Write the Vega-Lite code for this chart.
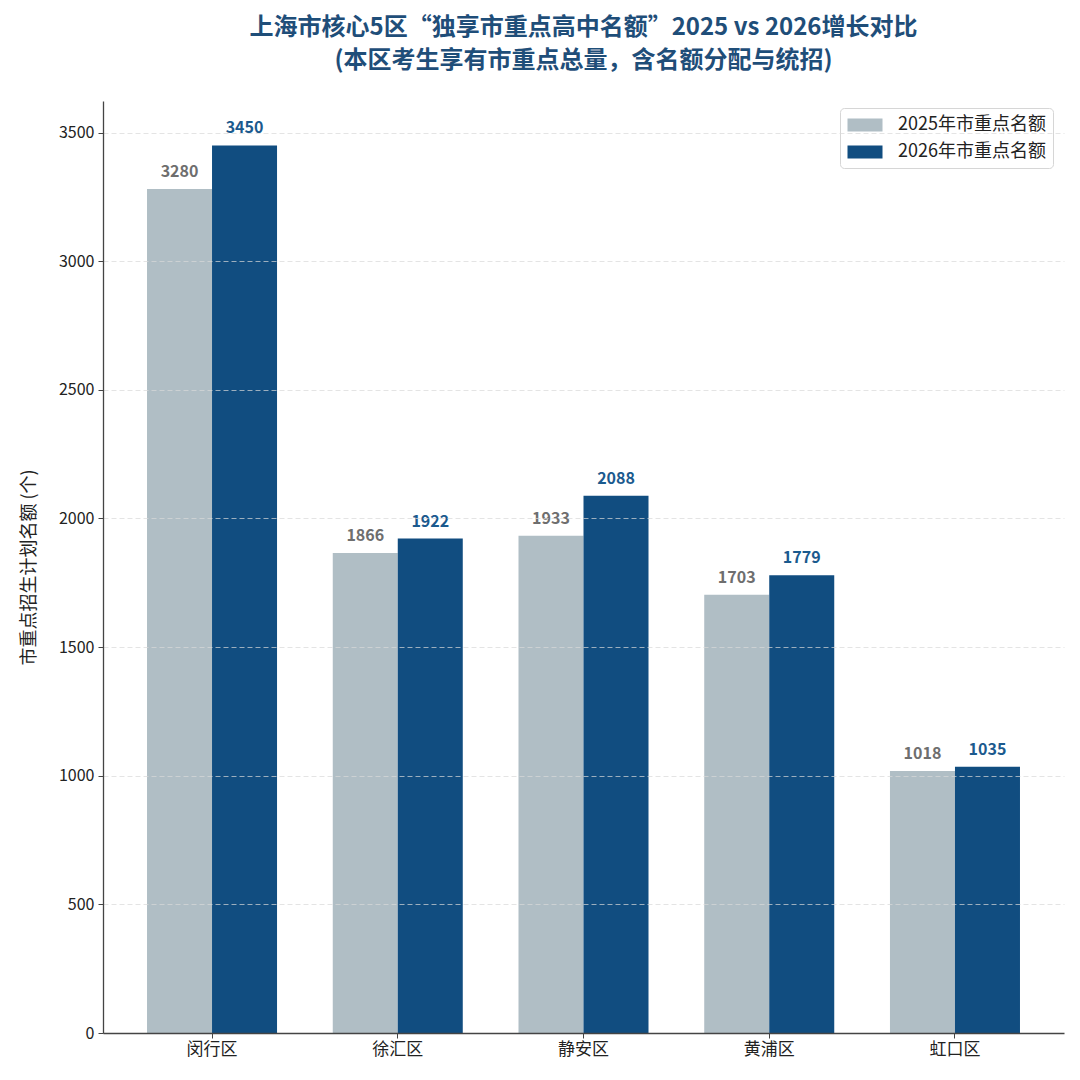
{
  "$schema": "https://vega.github.io/schema/vega-lite/v6.json",
  "width": 961,
  "height": 932,
  "autosize": {"type": "none"},
  "padding": {"left": 103, "top": 101, "right": 16, "bottom": 47},
  "background": "white",
  "config": {
    "font": "Noto Sans CJK SC",
    "view": {"stroke": null}
  },
  "title": {
    "text": [
      "上海市核心5区“独享市重点高中名额”2025 vs 2026增长对比",
      "(本区考生享有市重点总量，含名额分配与统招)"
    ],
    "font": "Noto Sans CJK SC",
    "fontSize": 24,
    "fontWeight": "bold",
    "color": "#1f4e79",
    "anchor": "middle",
    "lineHeight": 33,
    "offset": 28
  },
  "data": {
    "values": [
      {"district": "闵行区", "series": "2025年市重点名额", "value": 3280},
      {"district": "闵行区", "series": "2026年市重点名额", "value": 3450},
      {"district": "徐汇区", "series": "2025年市重点名额", "value": 1866},
      {"district": "徐汇区", "series": "2026年市重点名额", "value": 1922},
      {"district": "静安区", "series": "2025年市重点名额", "value": 1933},
      {"district": "静安区", "series": "2026年市重点名额", "value": 2088},
      {"district": "黄浦区", "series": "2025年市重点名额", "value": 1703},
      {"district": "黄浦区", "series": "2026年市重点名额", "value": 1779},
      {"district": "虹口区", "series": "2025年市重点名额", "value": 1018},
      {"district": "虹口区", "series": "2026年市重点名额", "value": 1035}
    ]
  },
  "encoding": {
    "x": {
      "field": "district",
      "type": "nominal",
      "sort": ["闵行区", "徐汇区", "静安区", "黄浦区", "虹口区"],
      "scale": {"paddingInner": 0.3, "paddingOuter": 0.237},
      "axis": {
        "title": null,
        "labelAngle": 0,
        "labelFontSize": 17,
        "labelColor": "#222222",
        "labelPadding": 3,
        "tickSize": 5,
        "tickColor": "#444444",
        "domainColor": "#444444",
        "domainWidth": 1.3,
        "grid": false,
        "zindex": 2
      }
    },
    "xOffset": {
      "field": "series",
      "type": "nominal",
      "sort": ["2025年市重点名额", "2026年市重点名额"],
      "scale": {"paddingInner": 0, "paddingOuter": 0}
    },
    "y": {
      "field": "value",
      "type": "quantitative",
      "scale": {"domain": [0, 3622.5], "nice": false, "zero": true},
      "axis": {
        "title": "市重点招生计划名额 (个)",
        "titleFontSize": 18,
        "titleFontWeight": "normal",
        "titleColor": "#222222",
        "titlePadding": 20,
        "values": [0, 500, 1000, 1500, 2000, 2500, 3000, 3500],
        "format": "d",
        "labelFontSize": 16,
        "labelColor": "#222222",
        "labelPadding": 4,
        "tickSize": 5,
        "tickColor": "#444444",
        "domainColor": "#444444",
        "domainWidth": 1.3,
        "grid": true,
        "gridColor": "#d8d8d8",
        "gridOpacity": {"condition": {"test": "datum.value === 0", "value": 0}, "value": 0.7},
        "gridDash": [5, 3],
        "gridWidth": 1,
        "zindex": 1
      }
    }
  },
  "layer": [
    {
      "mark": {"type": "bar"},
      "encoding": {
        "color": {
          "field": "series",
          "type": "nominal",
          "scale": {
            "domain": ["2025年市重点名额", "2026年市重点名额"],
            "range": ["#b0bec5", "#114d80"]
          },
          "legend": {
            "title": null,
            "orient": "none",
            "legendX": 737,
            "legendY": 7,
            "padding": 7,
            "strokeColor": "#d6d6d6",
            "fillColor": "white",
            "cornerRadius": 4,
            "symbolType": "M-1.75,-0.65H1.75V0.65H-1.75Z",
            "symbolSize": 400,
            "symbolStrokeWidth": 0,
            "symbolOffset": 8,
            "labelOffset": 23,
            "labelFontSize": 18,
            "labelColor": "#222222",
            "rowPadding": 8,
            "labelLimit": 300
          }
        }
      }
    },
    {
      "mark": {
        "type": "text",
        "baseline": "alphabetic",
        "align": "center",
        "dy": -12,
        "fontSize": 16,
        "fontWeight": "bold"
      },
      "encoding": {
        "text": {"field": "value", "type": "quantitative"},
        "color": {
          "field": "series",
          "type": "nominal",
          "scale": {
            "domain": ["2025年市重点名额", "2026年市重点名额"],
            "range": ["#6e6e6e", "#1b5a8e"]
          },
          "legend": null
        }
      }
    }
  ],
  "resolve": {"scale": {"color": "independent"}}
}
